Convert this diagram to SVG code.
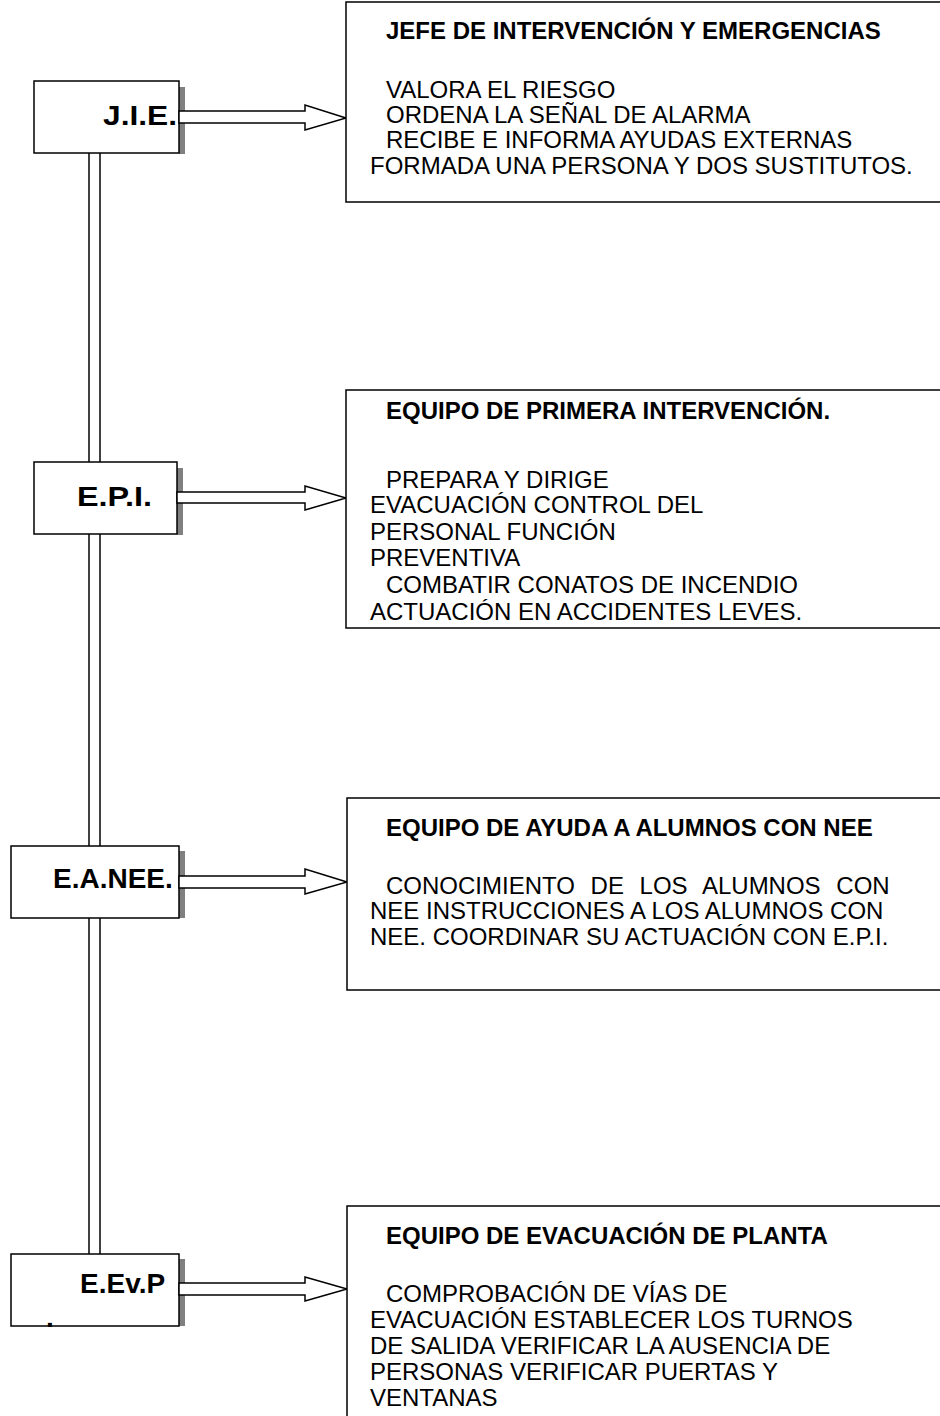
<svg xmlns="http://www.w3.org/2000/svg" width="940" height="1416" viewBox="0 0 940 1416">
<style>
.bx{fill:#fff;stroke:#000;stroke-width:1.5}
.sh{fill:#808080}
.ar{fill:#fff;stroke:#000;stroke-width:1.5;stroke-linejoin:miter}
.vl{fill:none;stroke:#000;stroke-width:1.5}
.lbl{font-family:"Liberation Sans",Arial,sans-serif;font-weight:bold;font-size:28px;fill:#000}
.ttl{font-family:"Liberation Sans",Arial,sans-serif;font-weight:bold;font-size:24px;fill:#000}
.bd{font-family:"Liberation Sans",Arial,sans-serif;font-size:24px;fill:#000}
</style>
<rect width="940" height="1416" fill="#fff"/>
<g id="connectors">
<line class="vl" x1="89" y1="153" x2="89" y2="1254"/>
<line class="vl" x1="100" y1="153" x2="100" y2="1254"/>
</g>
<g id="node-jie">
<rect class="sh" x="179" y="87" width="6" height="67"/>
<rect class="bx" x="34" y="81" width="145" height="72"/>
<polygon class="ar" points="179,111 305,111 305,105 346,118 305,130 305,123 179,123"/>
<text class="lbl" x="103" y="125" textLength="74" lengthAdjust="spacingAndGlyphs">J.I.E.</text>
</g>
<g id="node-epi">
<rect class="sh" x="177" y="468" width="6" height="67"/>
<rect class="bx" x="34" y="462" width="143" height="72"/>
<polygon class="ar" points="177,492 305,492 305,486 346,498 305,510 305,503 177,503"/>
<text class="lbl" x="77" y="506" textLength="75" lengthAdjust="spacingAndGlyphs">E.P.I.</text>
</g>
<g id="node-eanee">
<rect class="sh" x="179" y="851" width="6" height="67"/>
<rect class="bx" x="11" y="846" width="168" height="72"/>
<polygon class="ar" points="179,876 305,876 305,869 347,882 305,894 305,888 179,888"/>
<text class="lbl" x="53" y="888">E.A.NEE.</text>
</g>
<g id="node-eevp">
<rect class="sh" x="179" y="1259" width="6" height="67"/>
<rect class="bx" x="11" y="1254" width="168" height="72"/>
<polygon class="ar" points="179,1283 305,1283 305,1277 347,1289 305,1301 305,1295 179,1295"/>
<text class="lbl" x="80" y="1293">E.Ev.P</text>
<text class="lbl" x="46" y="1327" font-size="20">.</text>
</g>
<g id="desc-jie">
<rect class="bx" x="346" y="2" width="600" height="200"/>
<text class="ttl" x="386" y="39">JEFE DE INTERVENCIÓN Y EMERGENCIAS</text>
<text class="bd" x="386" y="98">VALORA EL RIESGO</text>
<text class="bd" x="386" y="123">ORDENA LA SEÑAL DE ALARMA</text>
<text class="bd" x="386" y="148">RECIBE E INFORMA AYUDAS EXTERNAS</text>
<text class="bd" x="370" y="174">FORMADA UNA PERSONA Y DOS SUSTITUTOS.</text>
</g>
<g id="desc-epi">
<rect class="bx" x="346" y="390" width="600" height="238"/>
<text class="ttl" x="386" y="419">EQUIPO DE PRIMERA INTERVENCIÓN.</text>
<text class="bd" x="386" y="488">PREPARA Y DIRIGE</text>
<text class="bd" x="370" y="513">EVACUACIÓN CONTROL DEL</text>
<text class="bd" x="370" y="540">PERSONAL FUNCIÓN</text>
<text class="bd" x="370" y="566">PREVENTIVA</text>
<text class="bd" x="386" y="593">COMBATIR CONATOS DE INCENDIO</text>
<text class="bd" x="370" y="620">ACTUACIÓN EN ACCIDENTES LEVES.</text>
</g>
<g id="desc-eanee">
<rect class="bx" x="347" y="798" width="600" height="192"/>
<text class="ttl" x="386" y="836">EQUIPO DE AYUDA A ALUMNOS CON NEE</text>
<text class="bd" x="386" y="894" word-spacing="9">CONOCIMIENTO DE LOS ALUMNOS CON</text>
<text class="bd" x="370" y="919">NEE INSTRUCCIONES A LOS ALUMNOS CON</text>
<text class="bd" x="370" y="945">NEE. COORDINAR SU ACTUACIÓN CON E.P.I.</text>
</g>
<g id="desc-eevp">
<rect class="bx" x="347" y="1206" width="600" height="230"/>
<text class="ttl" x="386" y="1244">EQUIPO DE EVACUACIÓN DE PLANTA</text>
<text class="bd" x="386" y="1302">COMPROBACIÓN DE VÍAS DE</text>
<text class="bd" x="370" y="1328">EVACUACIÓN ESTABLECER LOS TURNOS</text>
<text class="bd" x="370" y="1354">DE SALIDA VERIFICAR LA AUSENCIA DE</text>
<text class="bd" x="370" y="1380">PERSONAS VERIFICAR PUERTAS Y</text>
<text class="bd" x="370" y="1406">VENTANAS</text>
</g>
</svg>
